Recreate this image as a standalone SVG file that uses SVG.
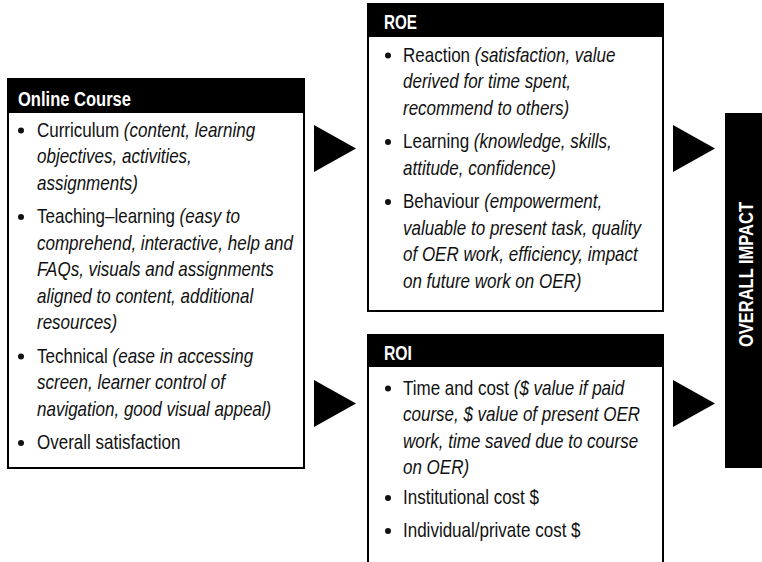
<svg xmlns="http://www.w3.org/2000/svg" width="762" height="562" viewBox="0 0 762 562">
<style>
.box{fill:#fff;stroke:#000;stroke-width:2}
.hdr{fill:#000}
.ht{font-family:"Liberation Sans",Arial,sans-serif;font-weight:bold;font-size:20px;fill:#fff}
.t{font-family:"Liberation Sans",Arial,sans-serif;font-size:20px;fill:#111}
.i{font-style:italic}
.b{fill:#111}
.tri{fill:#000}
</style>
<rect width="762" height="562" fill="#fff"/>
<g id="online-course">
<rect class="box" x="8" y="79" width="296" height="389"/>
<rect class="hdr" x="7" y="79" width="298" height="34"/>
<text class="ht" x="18" y="106" textLength="113" lengthAdjust="spacingAndGlyphs">Online Course</text>
<circle class="b" cx="21" cy="130.5" r="3"/>
<circle class="b" cx="21" cy="217" r="3"/>
<circle class="b" cx="21" cy="356.5" r="3"/>
<circle class="b" cx="21" cy="443" r="3"/>
<g transform="translate(37,0) scale(0.85,1)">
<text class="t" x="0" y="137">Curriculum <tspan class="i">(content, learning</tspan></text>
<text class="t i" x="0" y="163.5">objectives, activities,</text>
<text class="t i" x="0" y="190">assignments)</text>
<text class="t" x="0" y="223.5">Teaching–learning <tspan class="i">(easy to</tspan></text>
<text class="t i" x="0" y="250">comprehend, interactive, help and</text>
<text class="t i" x="0" y="276.5">FAQs, visuals and assignments</text>
<text class="t i" x="0" y="303">aligned to content, additional</text>
<text class="t i" x="0" y="329.5">resources)</text>
<text class="t" x="0" y="363">Technical <tspan class="i">(ease in accessing</tspan></text>
<text class="t i" x="0" y="389.5">screen, learner control of</text>
<text class="t i" x="0" y="416">navigation, good visual appeal)</text>
<text class="t" x="0" y="449.5">Overall satisfaction</text>
</g>
</g>
<g id="roe">
<rect class="box" x="368" y="4" width="295" height="307"/>
<rect class="hdr" x="367" y="3" width="297" height="34"/>
<text class="ht" x="384" y="29" textLength="33" lengthAdjust="spacingAndGlyphs">ROE</text>
<circle class="b" cx="388" cy="55.5" r="3"/>
<circle class="b" cx="388" cy="142" r="3"/>
<circle class="b" cx="388" cy="202" r="3"/>
<g transform="translate(403,0) scale(0.85,1)">
<text class="t" x="0" y="62">Reaction <tspan class="i">(satisfaction, value</tspan></text>
<text class="t i" x="0" y="88.5">derived for time spent,</text>
<text class="t i" x="0" y="115">recommend to others)</text>
<text class="t" x="0" y="148.5">Learning <tspan class="i">(knowledge, skills,</tspan></text>
<text class="t i" x="0" y="175">attitude, confidence)</text>
<text class="t" x="0" y="208.5">Behaviour <tspan class="i">(empowerment,</tspan></text>
<text class="t i" x="0" y="235">valuable to present task, quality</text>
<text class="t i" x="0" y="261.5">of OER work, efficiency, impact</text>
<text class="t i" x="0" y="288">on future work on OER)</text>
</g>
</g>
<g id="roi">
<path d="M368,334 V563 M663,334 V563" fill="none" stroke="#000" stroke-width="2"/>
<rect class="hdr" x="367" y="334" width="297" height="33"/>
<text class="ht" x="384" y="360" textLength="28" lengthAdjust="spacingAndGlyphs">ROI</text>
<circle class="b" cx="388" cy="388.5" r="3"/>
<circle class="b" cx="388" cy="498" r="3"/>
<circle class="b" cx="388" cy="531" r="3"/>
<g transform="translate(403,0) scale(0.85,1)">
<text class="t" x="0" y="395">Time and cost <tspan class="i">($ value if paid</tspan></text>
<text class="t i" x="0" y="421.5">course, $ value of present OER</text>
<text class="t i" x="0" y="448">work, time saved due to course</text>
<text class="t i" x="0" y="474.5">on OER)</text>
<text class="t" x="0" y="504.5">Institutional cost $</text>
<text class="t" x="0" y="537.5">Individual/private cost $</text>
</g>
</g>
<g id="overall-impact">
<rect class="hdr" x="725" y="113" width="37" height="355"/>
<text class="ht" transform="translate(753,347) rotate(-90)" x="0" y="0" font-size="18" textLength="145" lengthAdjust="spacingAndGlyphs">OVERALL IMPACT</text>
</g>
<g id="connectors">
<polygon class="tri" points="314,125 314,172 356,148.5"/>
<polygon class="tri" points="314,380 314,427 356,403.5"/>
<polygon class="tri" points="673,125 673,172 715,148.5"/>
<polygon class="tri" points="673,380 673,427 715,403.5"/>
</g>
</svg>
